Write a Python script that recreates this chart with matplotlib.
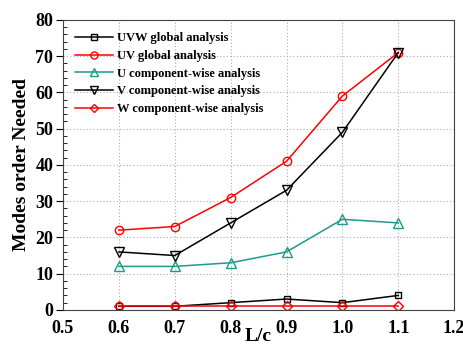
import matplotlib
matplotlib.use("Agg")
import matplotlib.pyplot as plt
from matplotlib.ticker import MultipleLocator

plt.rcParams['font.family'] = ['Liberation Serif', 'DejaVu Serif']
plt.rcParams['font.weight'] = 'bold'

lc = [0.6, 0.7, 0.8, 0.9, 1.0, 1.1]
uvw_global = [1, 1, 2, 3, 2, 4]
uv_global = [22, 23, 31, 41, 59, 71]
u_comp = [12, 12, 13, 16, 25, 24]
v_comp = [16, 15, 24, 33, 49, 71]
w_comp = [1, 1, 1, 1, 1, 1]

fig = plt.figure(figsize=(4.63, 3.49), dpi=100)
ax = fig.add_axes([0.136, 0.112, 0.845, 0.831])

ax.plot(lc, uvw_global, color='black', marker='s', mfc='none', ms=5, lw=1.1, label='UVW global analysis')
ax.plot(lc, uv_global, color='red', marker='o', mfc='none', ms=6, lw=1.1, label='UV global analysis')
ax.plot(lc, u_comp, color='#1f9a8c', marker='^', mfc='none', ms=6.5, lw=1.1, label='U component-wise analysis')
ax.plot(lc, v_comp, color='black', marker='v', mfc='none', ms=6.5, lw=1.1, label='V component-wise analysis')
ax.plot(lc, w_comp, color='red', marker='D', mfc='none', ms=5, lw=1.1, label='W component-wise analysis')

ax.set_xlim(0.5, 1.2)
ax.set_ylim(0, 80)
ax.yaxis.set_major_locator(MultipleLocator(10))
ax.yaxis.set_minor_locator(MultipleLocator(2))
ax.set_xticks([0.5, 0.6, 0.7, 0.8, 0.9, 1.0, 1.1, 1.2])
ax.set_xticklabels(['0.5', '0.6', '0.7', '0.8', '0.9', '1.0', '1.1', '1.2'])
ax.tick_params(axis='y', which='major', direction='out', length=5, labelsize=13, pad=2)
ax.tick_params(axis='y', which='minor', direction='in', length=3)
ax.tick_params(axis='x', which='major', length=0, labelsize=13, pad=7)
ax.grid(True, which='major', color='#aaaaaa', linestyle=(0, (1, 2)), linewidth=0.8)
for s in ax.spines.values():
    s.set_color('#444444')

ax.set_xlabel('L/c', fontsize=14, fontweight='bold', labelpad=-6)
ax.set_ylabel('Modes order Needed', fontsize=14, fontweight='bold', labelpad=4)

ax.legend(loc='upper left', frameon=False, prop={'weight': 'bold', 'size': 9},
          handlelength=3.0, labelspacing=0.45, handletextpad=0.3, borderaxespad=0.6,
          markerscale=0.85)

fig.savefig('out.png', dpi=100)
